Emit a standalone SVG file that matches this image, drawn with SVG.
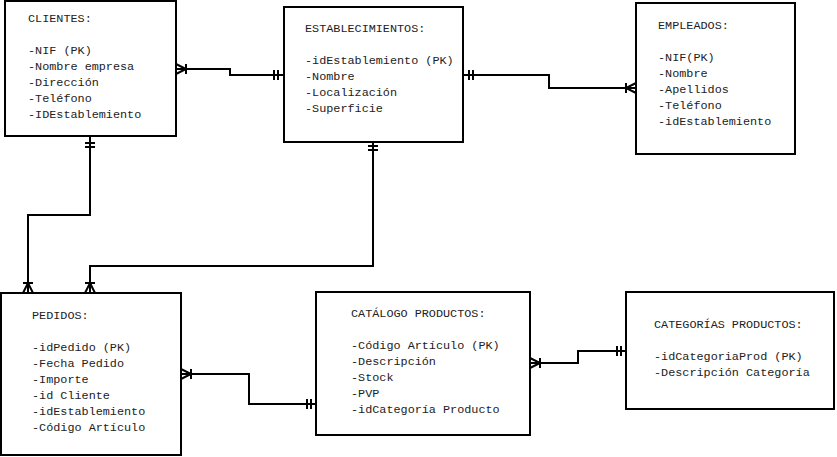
<svg xmlns="http://www.w3.org/2000/svg" width="837" height="457" viewBox="0 0 837 457">
<style>
.box{fill:#fff;stroke:#000;stroke-width:2}
.t{font-family:"Liberation Mono","DejaVu Sans Mono",monospace;font-size:11.8px;fill:#222}
.c{fill:none;stroke:#000;stroke-width:2}
</style>
<rect width="837" height="457" fill="#fff"/>
<g id="clientes">
<rect class="box" x="5" y="1" width="171" height="135"/>
<text class="t" x="28" y="22">CLIENTES:</text>
<text class="t" x="28" y="54">-NIF (PK)</text>
<text class="t" x="28" y="70">-Nombre empresa</text>
<text class="t" x="28" y="86">-Dirección</text>
<text class="t" x="28" y="102">-Teléfono</text>
<text class="t" x="28" y="118">-IDEstablemiento</text>
</g>
<g id="establecimientos">
<rect class="box" x="284" y="7" width="179" height="135"/>
<text class="t" x="305" y="32">ESTABLECIMIENTOS:</text>
<text class="t" x="305" y="64">-idEstablemiento (PK)</text>
<text class="t" x="305" y="80">-Nombre</text>
<text class="t" x="305" y="96">-Localización</text>
<text class="t" x="305" y="112">-Superficie</text>
</g>
<g id="empleados">
<rect class="box" x="636" y="3" width="159" height="151"/>
<text class="t" x="658" y="29">EMPLEADOS:</text>
<text class="t" x="658" y="61">-NIF(PK)</text>
<text class="t" x="658" y="77">-Nombre</text>
<text class="t" x="658" y="93">-Apellidos</text>
<text class="t" x="658" y="109">-Teléfono</text>
<text class="t" x="658" y="125">-idEstablemiento</text>
</g>
<g id="pedidos">
<rect class="box" x="1" y="293" width="180" height="162"/>
<text class="t" x="32" y="319">PEDIDOS:</text>
<text class="t" x="32" y="351">-idPedido (PK)</text>
<text class="t" x="32" y="367">-Fecha Pedido</text>
<text class="t" x="32" y="383">-Importe</text>
<text class="t" x="32" y="399">-id Cliente</text>
<text class="t" x="32" y="415">-idEstablemiento</text>
<text class="t" x="32" y="431">-Código Artículo</text>
</g>
<g id="catalogo">
<rect class="box" x="316" y="292" width="214" height="143"/>
<text class="t" x="351" y="317">CATÁLOGO PRODUCTOS:</text>
<text class="t" x="351" y="349">-Código Artículo (PK)</text>
<text class="t" x="351" y="365">-Descripción</text>
<text class="t" x="351" y="381">-Stock</text>
<text class="t" x="351" y="397">-PVP</text>
<text class="t" x="351" y="413">-idCategoría Producto</text>
</g>
<g id="categorias">
<rect class="box" x="626" y="292" width="208" height="117"/>
<text class="t" x="654" y="328">CATEGORÍAS PRODUCTOS:</text>
<text class="t" x="654" y="360">-idCategoriaProd (PK)</text>
<text class="t" x="654" y="376">-Descripción Categoría</text>
</g>
<g id="connectors">
<path class="c" d="M176,69 H230 V75 H284"/>
<path class="c" d="M176,64 L186,69 L176,74 M186,64 V74"/>
<path class="c" d="M274,70 V80 M278,70 V80"/>
<path class="c" d="M463,75 H549 V88 H636"/>
<path class="c" d="M469,70 V80 M473,70 V80"/>
<path class="c" d="M636,83 L626,88 L636,93 M626,83 V93"/>
<path class="c" d="M90,136 V215 H28 V293"/>
<path class="c" d="M85,143 H95 M85,147 H95"/>
<path class="c" d="M23,293 L28,283 L33,293 M23,283 H33"/>
<path class="c" d="M373,142 V266 H90 V293"/>
<path class="c" d="M368,146 H378 M368,150 H378"/>
<path class="c" d="M85,293 L90,283 L95,293 M85,283 H95"/>
<path class="c" d="M181,374 H249 V404 H316"/>
<path class="c" d="M181,369 L191,374 L181,379 M191,369 V379"/>
<path class="c" d="M307,399 V409 M311,399 V409"/>
<path class="c" d="M530,363 H578 V351 H626"/>
<path class="c" d="M530,358 L540,363 L530,368 M540,358 V368"/>
<path class="c" d="M617,346 V356 M621,346 V356"/>
</g>
</svg>
